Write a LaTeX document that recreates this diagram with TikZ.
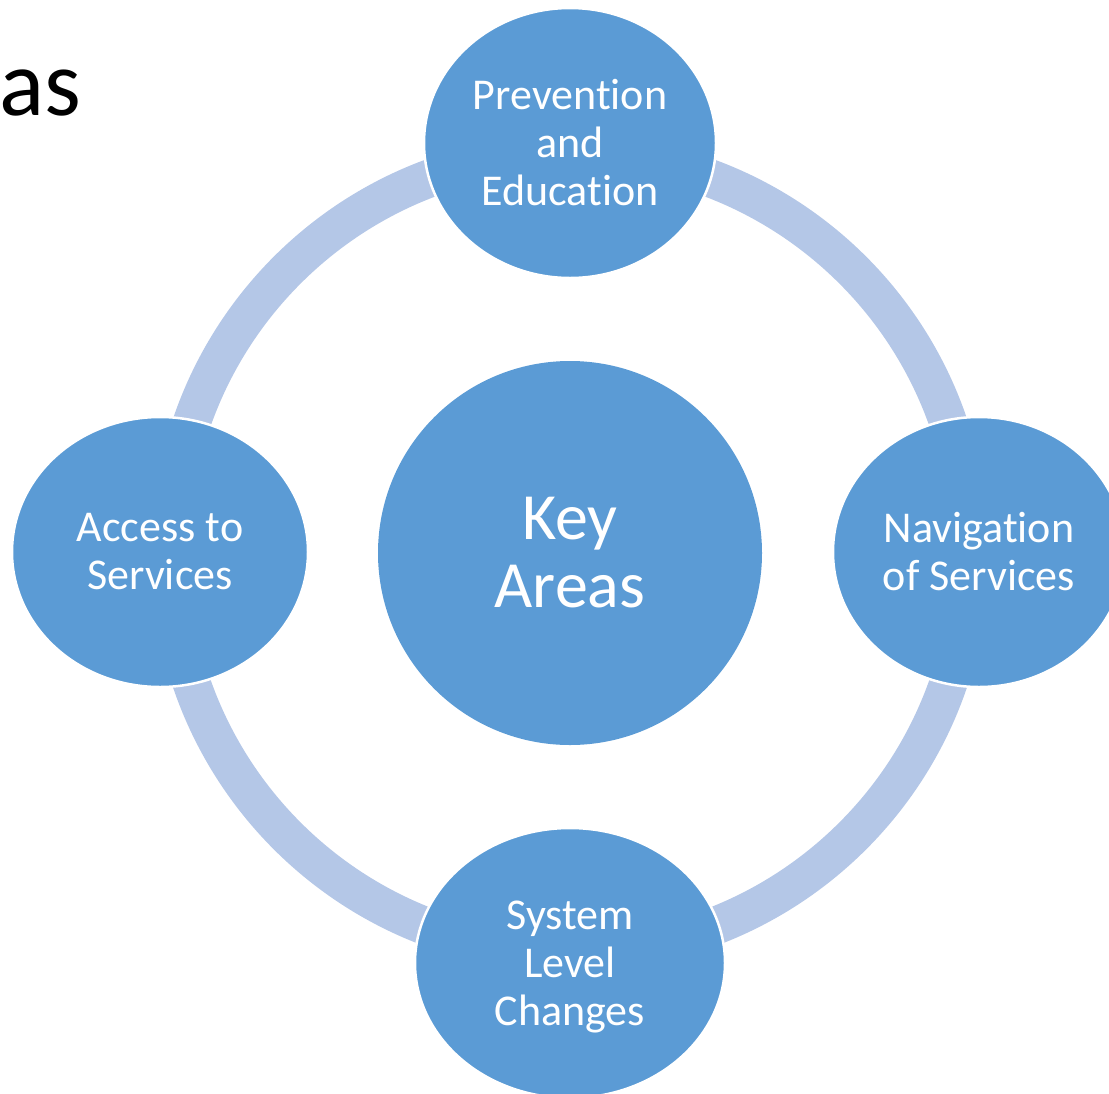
\documentclass[tikz,border=0pt]{standalone}
\usepackage{fontspec}
\setmainfont[Ligatures=NoCommon]{Carlito}
\usetikzlibrary{shapes.geometric}
\definecolor{areablue}{RGB}{91,155,213}
\definecolor{ringblue}{RGB}{180,199,231}
\tikzset{
  area/.style={ellipse, fill=areablue, draw=white, line width=2.5bp, inner sep=0pt,
    text=white, align=center, font=\fontsize{44bp}{48bp}\selectfont,
    minimum width=292bp, minimum height=270bp},
  hubcircle/.style={circle, fill=areablue, inner sep=0pt, minimum size=384bp,
    text=white, align=center, font=\fontsize{66bp}{68bp}\selectfont},
  ring/.style={draw=ringblue, line width=38bp}
}

\begin{document}
\begin{tikzpicture}[x=1bp,y=-1bp]
  \useasboundingbox (0,0) rectangle (1109,1094);
  \clip (0,0) rectangle (1109,1094);

  % tail of the slide title
  \node[anchor=base west, inner sep=0pt, font=\fontsize{94bp}{94bp}\selectfont] (title) at (-1,115) {as};

  % ring behind the four areas
  \coordinate (hub) at (570,553);
  \draw[ring] (hub) circle[radius=400];

  \node[hubcircle] (key) at (hub) {Key\\Areas};

  \node[area] (prev) at (570,143) {Prevention\\and\\Education};
  \node[area] (nav)  at (979,552) {Navigation\\of Services};
  \node[area, minimum width=310bp] (sys) at (570,963) {System\\Level\\\smash{Changes}};
  \node[area, minimum width=296bp] (acc) at (160,552) {Access to\\Services};
\end{tikzpicture}
\end{document}
